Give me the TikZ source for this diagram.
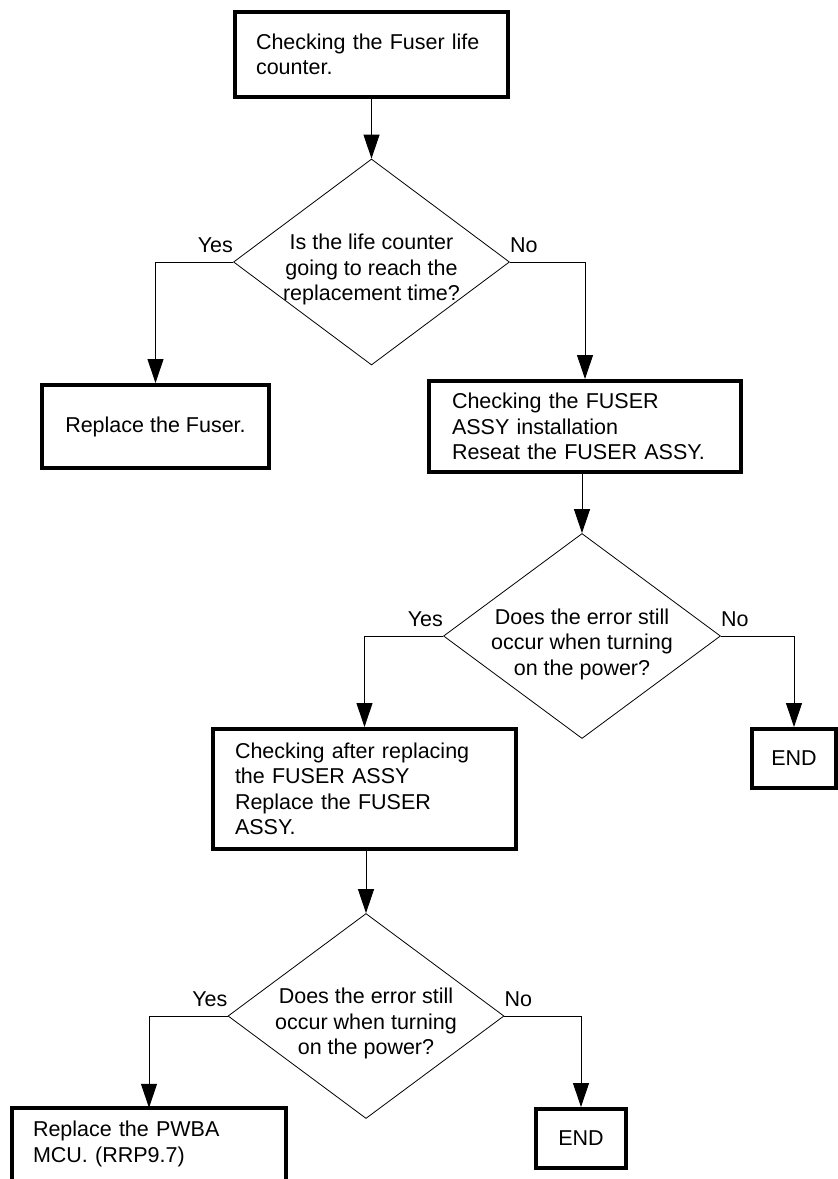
\documentclass[tikz,border=0pt]{standalone}
\usepackage{fontspec}
\setmainfont{Liberation Sans}
\usetikzlibrary{arrows.meta,shapes.geometric}
\tikzset{
  every node/.style={font=\fontsize{21.5pt}{25.5pt}\selectfont, inner sep=0pt},
  procbox/.style={draw, line width=4pt, rectangle, align=left},
  endbox/.style={draw, line width=4pt, rectangle, align=center},
  boxline/.style={line width=4pt},
  decision/.style={draw, line width=0.8pt, diamond},
  qtext/.style={align=center},
  conn/.style={line width=1pt, -{Triangle[length=24pt,width=16pt]}},
}
\begin{document}
\begin{tikzpicture}[x=1pt,y=-1pt]
\useasboundingbox (0,0) rectangle (838,1179);
\clip (0,0) rectangle (838,1179);
\fill[white] (0,0) rectangle (838,1179);

% process boxes
\node[procbox, minimum width=273pt, minimum height=85pt, text width=231pt] (b1) at (371.5,54.5) {Checking the Fuser life\\counter.};
\node[endbox, minimum width=227pt, minimum height=83pt] (bR) at (155.5,426.5) {Replace the Fuser.};
\node[procbox, minimum width=312pt, minimum height=91pt, text width=266pt] (b2) at (585,426.5) {Checking the FUSER\\ASSY installation\\Reseat the FUSER ASSY.};
\node[procbox, minimum width=303pt, minimum height=120pt, text width=259pt] (b3) at (364.5,789) {Checking after replacing\\the FUSER ASSY\\Replace the FUSER\\ASSY.};
\node[align=left, minimum width=274pt, minimum height=72pt, text width=232pt] (b4) at (149,1144) {Replace the PWBA\\MCU. (RRP9.7)};
\draw[boxline] (b4.north west) rectangle ([yshift=-12pt]b4.south east);
\node[endbox, minimum width=84pt, minimum height=59pt] (e1) at (794,758.5) {END};
\node[endbox, minimum width=90pt, minimum height=59pt] (e2) at (581,1138.5) {END};

% decisions
\node[decision, minimum width=276pt, minimum height=206pt] (d1) at (371.5,262) {};
\node[qtext] (q1) at (371.5,269.5) {Is the life counter\\going to reach the\\replacement time?};
\node[decision, minimum width=277pt, minimum height=205pt] (d2) at (582,636) {};
\node[qtext] (q2) at (582,644) {Does the error still\\occur when turning\\on the power?};
\node[decision, minimum width=276pt, minimum height=205pt] (d3) at (366,1016) {};
\node[qtext] (q3) at (366,1023.5) {Does the error still\\occur when turning\\on the power?};

% branch labels
\node[anchor=base east] (y1) at ([yshift=10pt]d1.west) {Yes};
\node[anchor=base west] (n1) at ([yshift=10pt]d1.east) {No};
\node[anchor=base east] (y2) at ([yshift=10pt]d2.west) {Yes};
\node[anchor=base west] (n2) at ([yshift=10pt]d2.east) {No};
\node[anchor=base east] (y3) at ([yshift=10pt]d3.west) {Yes};
\node[anchor=base west] (n3) at ([yshift=10pt]d3.east) {No};

% connectors
\draw[conn] (b1.south) -- (d1.north);
\draw[conn] (d1.west) -| (bR.north);
\draw[conn] (d1.east) -| (b2.north);
\draw[conn] (d2.north |- b2.south) -- (d2.north);
\draw[conn] (d2.west) -| (b3.north);
\draw[conn] (d2.east) -| (e1.north);
\draw[conn] (d3.north |- b3.south) -- (d3.north);
\draw[conn] (d3.west) -| (b4.north);
\draw[conn] (d3.east) -| (e2.north);
\end{tikzpicture}
\end{document}
